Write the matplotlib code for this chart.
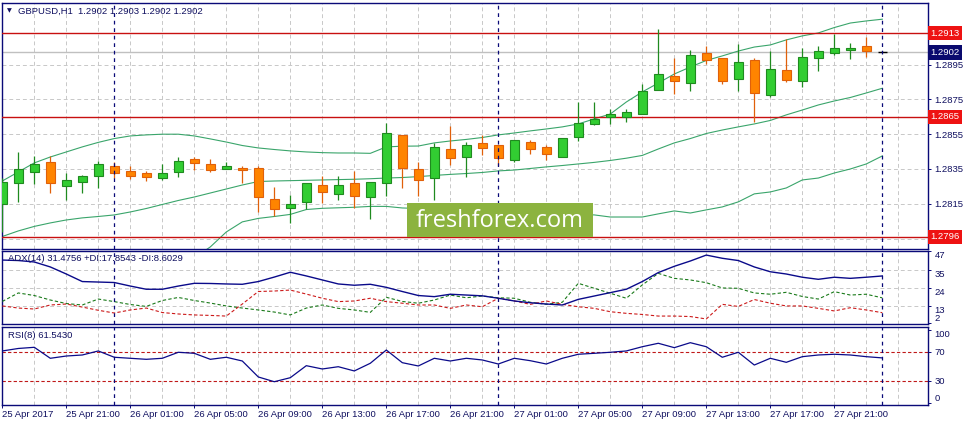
import matplotlib
matplotlib.use('Agg')
import matplotlib.pyplot as plt
import matplotlib.transforms as mtransforms
from matplotlib.patches import Rectangle

plt.rcParams['font.family'] = ['Liberation Sans', 'DejaVu Sans']

# ---------------- data ----------------
opens = [1.28149, 1.28268, 1.28335, 1.28389, 1.28254, 1.28274, 1.28312, 1.28367, 1.28337, 1.28327,
         1.28297, 1.28335, 1.28408, 1.28379, 1.28352, 1.28354, 1.28354, 1.28176, 1.28124, 1.28159,
         1.28258, 1.28205, 1.28270, 1.28187, 1.28268, 1.28544, 1.28348, 1.28297, 1.28465, 1.28421,
         1.28498, 1.28486, 1.28404, 1.28504, 1.28477, 1.28421, 1.28536, 1.28607, 1.28647, 1.28651,
         1.28665, 1.28802, 1.28883, 1.28843, 1.29015, 1.28986, 1.28866, 1.28975, 1.28774, 1.28917,
         1.28854, 1.28986, 1.29015, 1.29032, 1.29055, 1.2902]
highs = [1.28300, 1.28446, 1.28425, 1.28425, 1.28327, 1.28317, 1.28396, 1.28389, 1.28367, 1.28339,
         1.28379, 1.28419, 1.28419, 1.28406, 1.28390, 1.28367, 1.28367, 1.28245, 1.28201, 1.28271,
         1.28310, 1.28310, 1.28337, 1.28274, 1.28613, 1.28544, 1.28389, 1.28498, 1.28597, 1.28504,
         1.28544, 1.28486, 1.28515, 1.28517, 1.28486, 1.28527, 1.28737, 1.28733, 1.28695, 1.28695,
         1.28839, 1.29155, 1.28986, 1.29034, 1.29057, 1.28986, 1.29069, 1.28986, 1.29028, 1.29096,
         1.29044, 1.29057, 1.29126, 1.29076, 1.29109, 1.2903]
lows = [1.27990, 1.28159, 1.28264, 1.28214, 1.28172, 1.28214, 1.28243, 1.28300, 1.28294, 1.28283,
        1.28285, 1.28306, 1.28344, 1.28335, 1.28348, 1.28271, 1.28105, 1.28080, 1.28038, 1.28119,
        1.28157, 1.28172, 1.28124, 1.28065, 1.28195, 1.28239, 1.28197, 1.28172, 1.28373, 1.28306,
        1.28431, 1.28367, 1.28392, 1.28435, 1.28402, 1.28417, 1.28513, 1.28605, 1.28610, 1.28620,
        1.28665, 1.28802, 1.28781, 1.28800, 1.28952, 1.28840, 1.28800, 1.28622, 1.28762, 1.28852,
        1.28823, 1.28915, 1.29004, 1.28984, 1.28992, 1.2902]
closes = [1.28277, 1.28348, 1.28379, 1.28268, 1.28285, 1.28310, 1.28379, 1.28325, 1.28312, 1.28306,
          1.28325, 1.28394, 1.28386, 1.28346, 1.28366, 1.28346, 1.28187, 1.28119, 1.28149, 1.28268,
          1.28216, 1.28258, 1.28197, 1.28274, 1.28555, 1.28354, 1.28285, 1.28475, 1.28415, 1.28486,
          1.28473, 1.28415, 1.28515, 1.28463, 1.28435, 1.28527, 1.28613, 1.28636, 1.28665, 1.28676,
          1.28798, 1.28896, 1.28854, 1.29004, 1.28975, 1.28854, 1.28963, 1.28785, 1.28923, 1.28863,
          1.28992, 1.29027, 1.29044, 1.29044, 1.29027, 1.2902]

bb_upper = [1.28281, 1.28333, 1.28385, 1.28419, 1.28448, 1.28477, 1.28503, 1.28525, 1.28540, 1.28546,
            1.28550, 1.28550, 1.28540, 1.28523, 1.28505, 1.28485, 1.28471, 1.28462, 1.28454, 1.28448,
            1.28444, 1.28442, 1.28442, 1.28440, 1.28477, 1.28481, 1.28482, 1.28500, 1.28511, 1.28520,
            1.28531, 1.28546, 1.28557, 1.28569, 1.28580, 1.28592, 1.28609, 1.28638, 1.28666, 1.28735,
            1.28793, 1.28844, 1.28896, 1.28936, 1.28974, 1.29000, 1.29028, 1.29051, 1.29063, 1.29092,
            1.29115, 1.29132, 1.29163, 1.29189, 1.29201, 1.29211]
bb_middle = [1.27962, 1.27994, 1.28020, 1.28040, 1.28057, 1.28069, 1.28077, 1.28086, 1.28103, 1.28123,
             1.28146, 1.28169, 1.28189, 1.28212, 1.28235, 1.28258, 1.28278, 1.28281, 1.28283, 1.28285,
             1.28287, 1.28289, 1.28291, 1.28294, 1.28298, 1.28301, 1.28306, 1.28313, 1.28319, 1.28324,
             1.28330, 1.28339, 1.28344, 1.28353, 1.28362, 1.28370, 1.28379, 1.28388, 1.28399, 1.28412,
             1.28428, 1.28465, 1.28500, 1.28525, 1.28554, 1.28574, 1.28592, 1.28609, 1.28629, 1.28661,
             1.28689, 1.28718, 1.28741, 1.28761, 1.28787, 1.28814]
bb_lower = [1.27643, 1.27655, 1.27655, 1.27661, 1.27666, 1.27661, 1.27652, 1.27646, 1.27666, 1.27701,
            1.27744, 1.27790, 1.27839, 1.27902, 1.27988, 1.28046, 1.28066, 1.28077, 1.28089, 1.28117,
            1.28124, 1.28127, 1.28130, 1.28135, 1.28135, 1.28126, 1.28123, 1.28120, 1.28117, 1.28115,
            1.28109, 1.28106, 1.28103, 1.28097, 1.28094, 1.28092, 1.28089, 1.28086, 1.28074, 1.28074,
            1.28074, 1.28092, 1.28109, 1.28097, 1.28115, 1.28132, 1.28161, 1.28207, 1.28218, 1.28241,
            1.28287, 1.28298, 1.28327, 1.28350, 1.28379, 1.28425]

adx = [41.4, 41.1, 40.2, 37.1, 32.7, 28.0, 27.7, 27.4, 25.2, 23.2,
       23.2, 25.2, 26.9, 26.8, 26.5, 26.3, 28.0, 30.8, 33.8, 31.5,
       29.0, 26.5, 25.7, 26.3, 24.4, 21.8, 19.3, 18.6, 20.1, 19.6,
       19.1, 17.6, 15.9, 14.8, 14.0, 13.4, 16.9, 19.0, 21.1, 23.2,
       28.0, 33.6, 37.5, 40.8, 44.5, 42.5, 41.1, 37.1, 34.1, 32.7,
       30.7, 29.4, 30.7, 30.0, 30.7, 31.48]
plus_di = [15.6, 20.9, 19.3, 16.5, 14.3, 13.4, 17.1, 15.5, 13.7, 12.5,
           16.2, 18.1, 16.2, 14.6, 12.8, 11.5, 10.3, 9.0, 7.2, 11.5,
           13.4, 11.3, 10.3, 8.8, 18.2, 15.6, 14.5, 16.5, 19.6, 17.9,
           19.0, 17.9, 17.6, 15.1, 13.8, 15.1, 26.9, 23.8, 20.7, 17.6,
           25.9, 33.1, 30.0, 29.0, 27.3, 24.0, 23.8, 20.9, 20.1, 21.3,
           18.7, 17.1, 21.7, 19.6, 20.1, 17.85]
minus_di = [12.8, 11.5, 10.9, 13.4, 14.0, 12.1, 10.1, 8.4, 10.3, 11.5,
            8.7, 7.8, 7.2, 6.9, 6.5, 14.0, 21.8, 22.1, 22.7, 20.2,
            17.6, 15.5, 15.9, 17.6, 15.5, 14.5, 13.4, 13.4, 11.3, 13.4,
            12.3, 17.6, 15.9, 13.8, 15.9, 13.8, 12.3, 11.3, 9.2, 8.2,
            7.5, 6.5, 6.5, 6.2, 4.7, 13.8, 12.5, 16.8, 14.5, 12.8,
            12.8, 11.3, 9.7, 11.7, 10.3, 8.60]
rsi = [71.0, 74.4, 76.0, 61.0, 64.1, 65.5, 71.0, 62.4, 61.0, 59.6,
       61.0, 69.2, 67.8, 59.6, 62.4, 57.3, 35.5, 29.0, 34.5, 50.9,
       46.4, 49.5, 43.7, 54.2, 72.3, 55.0, 50.5, 61.0, 57.3, 61.0,
       58.7, 53.2, 61.0, 57.7, 53.2, 61.0, 66.5, 67.8, 69.2, 71.0,
       76.8, 81.5, 75.5, 82.3, 76.8, 62.4, 69.2, 51.8, 61.0, 55.5,
       63.2, 65.5, 66.5, 65.5, 63.2, 61.54]

time_tick_bars = [0, 4, 8, 12, 16, 20, 24, 28, 32, 36, 40, 44, 48, 52]
time_tick_labels = ['25 Apr 2017', '25 Apr 21:00', '26 Apr 01:00', '26 Apr 05:00', '26 Apr 09:00',
                    '26 Apr 13:00', '26 Apr 17:00', '26 Apr 21:00', '27 Apr 01:00', '27 Apr 05:00',
                    '27 Apr 09:00', '27 Apr 13:00', '27 Apr 17:00', '27 Apr 21:00']
day_separator_bars = [7, 31, 55]

price_ticks = [1.2895, 1.2875, 1.2855, 1.2835, 1.2815, 1.2795]
price_tick_labels = ['1.2895', '1.2875', '1.2855', '1.2835', '1.2815', '']
level_lines = [1.2913, 1.2865, 1.2796]
bid_price = 1.2902
adx_ticks = [47, 35, 24, 13, 2]
adx_grid = [35, 24, 13]
rsi_ticks = [100, 70, 30, 0]
rsi_levels = [70, 30]

header = 'GBPUSD,H1  1.2902 1.2903 1.2902 1.2902'
adx_title = 'ADX(14) 31.4756 +DI:17.8543 -DI:8.6029'
rsi_title = 'RSI(8) 61.5430'
watermark = 'freshforex.com'

# ---------------- style ----------------
NAVY = '#0a0a78'
TXT = '#101060'
GRID = '#c8c8c8'
FS = 6.8
W, H = 969, 425
BAR_PX = 16.0
x_left_px, x_right_px = 1.5, 927.5
first_bar_px = 2.3

fig = plt.figure(figsize=(W / 100, H / 100), dpi=100)
fig.patch.set_facecolor('white')


def axes_box(top_px, bottom_px):
    return [x_left_px / W, (H - bottom_px) / H, (x_right_px - x_left_px) / W, (bottom_px - top_px) / H]


ax = fig.add_axes(axes_box(2.5, 248.5))
ax_adx = fig.add_axes(axes_box(250.5, 324.2))
ax_rsi = fig.add_axes(axes_box(326.5, 404.5))

xlim = ((x_left_px - first_bar_px) / BAR_PX, (x_right_px - first_bar_px) / BAR_PX)
n = len(opens)
xs = list(range(n))

for a in (ax, ax_adx, ax_rsi):
    a.set_xlim(*xlim)
    a.set_facecolor('white')
    for s in a.spines.values():
        s.set_color(NAVY)
        s.set_linewidth(1.0)
    a.yaxis.tick_right()
    a.tick_params(axis='y', direction='out', length=2.5, width=0.7, color=NAVY,
                  labelsize=FS, labelcolor=TXT, pad=2.5)
    a.tick_params(axis='x', direction='out', length=2.5, width=0.7, color=NAVY,
                  labelsize=FS, labelcolor=TXT, pad=1.5)
    for gx in range(2, int(xlim[1]) + 1, 2):
        a.axvline(gx, color=GRID, lw=0.7, ls=(0, (4, 3)), zorder=0)
    for sx in day_separator_bars:
        a.axvline(sx, color=NAVY, lw=0.9, ls=(0, (3, 3)), zorder=6)

ax.set_xticks([])
ax_adx.set_xticks([])
ax_rsi.set_xticks(time_tick_bars)
ax_rsi.set_xticklabels(time_tick_labels)
for lab in ax_rsi.get_xticklabels():
    lab.set_ha('left')

# ---------------- main price panel ----------------
ax.set_ylim(1.27893, 1.29307)
ax.set_yticks(price_ticks)
ax.set_yticklabels(price_tick_labels)
for p in price_ticks:
    ax.axhline(p, color=GRID, lw=0.7, ls=(0, (4, 3)), zorder=0)
ax.axhline(bid_price, color='#c0c0c0', lw=1.0, zorder=1)

bb_col = '#3aa56b'
ax.plot(xs, bb_upper, color=bb_col, lw=0.8, zorder=2)
ax.plot(xs, bb_middle, color=bb_col, lw=0.8, zorder=2)
ax.plot(xs, bb_lower, color=bb_col, lw=0.8, zorder=2)

for lv in level_lines:
    ax.axhline(lv, color='#c81010', lw=1.0, zorder=3)

UP_FILL, UP_EDGE = '#32cd32', '#1f8a1f'
DN_FILL, DN_EDGE = '#ff8400', '#e0600a'
for i in xs:
    o, h, l, c = opens[i], highs[i], lows[i], closes[i]
    if c > o:
        fc, ec = UP_FILL, UP_EDGE
    elif c < o:
        fc, ec = DN_FILL, DN_EDGE
    else:
        fc, ec = 'black', 'black'
    ax.vlines(i, l, h, colors=ec, lw=0.9, zorder=4)
    if c == o:
        ax.hlines(o, i - 0.3, i + 0.3, colors=ec, lw=1.0, zorder=5)
    else:
        ax.bar(i, abs(c - o), bottom=min(o, c), width=0.56, color=fc, edgecolor=ec,
               linewidth=0.8, zorder=5)

blend = mtransforms.blended_transform_factory(ax.transAxes, ax.transData)
box_x = 1.0 + 3.0 / (x_right_px - x_left_px)
for lv in level_lines:
    ax.text(box_x, lv, f'{lv:.4f}', transform=blend, ha='left', va='center', fontsize=FS,
            color='white', clip_on=False, zorder=20,
            bbox=dict(boxstyle='square,pad=0.28', fc='#ee1212', ec='none'))
ax.text(box_x, bid_price, f'{bid_price:.4f}', transform=blend, ha='left', va='center', fontsize=FS,
        color='white', clip_on=False, zorder=20,
        bbox=dict(boxstyle='square,pad=0.28', fc='#0a0a6e', ec='none'))

ax.text(5.0 / 926, 0.9654, '\u25bc', transform=ax.transAxes, fontsize=4.5, color=TXT,
        va='center', ha='left', family='DejaVu Sans')
ax.text(16.0 / 926, 0.9654, header, transform=ax.transAxes, fontsize=FS, color=TXT,
        va='center', ha='left')

wm_x0, wm_x1 = (407.3 - 1.5) / 926, (592.7 - 1.5) / 926
wm_y0, wm_y1 = (248.5 - 237.3) / 246, (248.5 - 202.7) / 246
ax.add_patch(Rectangle((wm_x0, wm_y0), wm_x1 - wm_x0, wm_y1 - wm_y0, transform=ax.transAxes,
                       fc='#8cb33f', ec='none', zorder=15))
ax.text((wm_x0 + wm_x1) / 2, (wm_y0 + wm_y1) / 2 - 0.005, watermark, transform=ax.transAxes,
        ha='center', va='center', fontsize=17, color='white', family='Open Sans', zorder=16)

# ---------------- ADX panel ----------------
ax_adx.set_ylim(1.43, 47.35)
ax_adx.set_yticks(adx_ticks)
ax_adx.set_yticklabels([str(v) for v in adx_ticks])
for v, lab in zip(adx_ticks, ax_adx.get_yticklabels()):
    lab.set_va('bottom' if v == adx_ticks[-1] else 'top')
for g in adx_grid:
    ax_adx.axhline(g, color=GRID, lw=0.7, ls=(0, (4, 3)), zorder=0)
ax_adx.plot(xs, adx, color='#0a0a8a', lw=1.0, zorder=4)
ax_adx.plot(xs, plus_di, color='#1a7a1a', lw=0.8, ls=(0, (3, 2)), zorder=3)
ax_adx.plot(xs, minus_di, color='#cc1a1a', lw=0.8, ls=(0, (3, 2)), zorder=3)
ax_adx.text(6.0 / 926, 0.885, adx_title, transform=ax_adx.transAxes, fontsize=FS, color=TXT,
            va='center', ha='left', zorder=10)

# ---------------- RSI panel ----------------
ax_rsi.set_ylim(-2.1, 104.4)
ax_rsi.set_yticks(rsi_ticks)
ax_rsi.set_yticklabels([str(v) for v in rsi_ticks])
for v, lab in zip(rsi_ticks, ax_rsi.get_yticklabels()):
    if v == rsi_ticks[0]:
        lab.set_va('top')
    elif v == rsi_ticks[-1]:
        lab.set_va('bottom')
for lv in rsi_levels:
    ax_rsi.axhline(lv, color='#c01818', lw=0.8, ls=(0, (3, 2)), zorder=2)
ax_rsi.plot(xs, rsi, color='#0a0a8a', lw=0.9, zorder=4)
ax_rsi.text(6.0 / 926, 0.891, rsi_title, transform=ax_rsi.transAxes, fontsize=FS, color=TXT,
            va='center', ha='left', zorder=10)

fig.savefig('out.png', dpi=100, facecolor='white')
